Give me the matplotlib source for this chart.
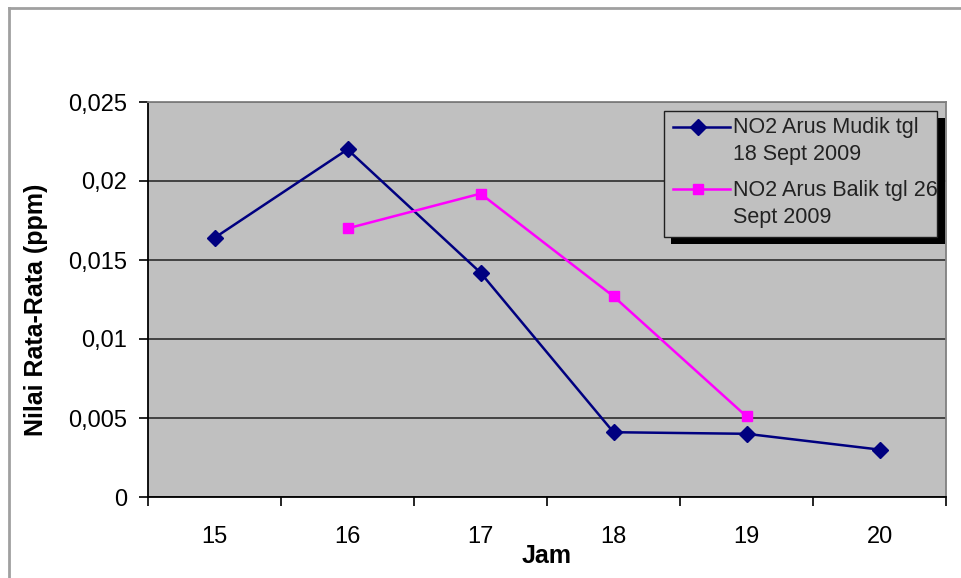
import numpy as np
import matplotlib
matplotlib.use('Agg')
import matplotlib.pyplot as plt
from matplotlib.patches import Rectangle
from matplotlib.lines import Line2D

# average NO2 per hour, homecoming (mudik) and return (balik) traffic
jam = ['15', '16', '17', '18', '19', '20']
mudik = [0.0164, 0.0220, 0.0142, 0.0041, 0.0040, 0.0030]
balik_jam = ['16', '17', '18', '19']
balik = [0.0170, 0.0192, 0.0127, 0.0051]
y_ticks = [0, 0.005, 0.01, 0.015, 0.02, 0.025]
y_labels = ['0', '0,005', '0,01', '0,015', '0,02', '0,025']
legend_mudik = ['NO2 Arus Mudik tgl', '18 Sept 2009']
legend_balik = ['NO2 Arus Balik tgl 26', 'Sept 2009']

plt.rcParams['font.family'] = 'Liberation Sans'

W, H = 961, 578
fig = plt.figure(figsize=(W / 100, H / 100), dpi=100)


def fx(px):
    return px / W


def fy(py):
    return 1 - py / H


# chart area border (top and left edges)
fig.add_artist(Line2D([fx(9), 1], [fy(8), fy(8)], color='#a0a0a0', lw=2))
fig.add_artist(Line2D([fx(9), fx(9)], [fy(8), 0], color='#a0a0a0', lw=2))

ax = fig.add_axes([fx(148), fy(497), (946 - 148) / W, (497 - 102) / H])
ax.set_facecolor('#c0c0c0')

x_mudik = [jam.index(j) for j in jam]
x_balik = [jam.index(j) for j in balik_jam]
ax.plot(x_mudik, mudik, color='#000080', lw=1.8, marker='D', ms=8, zorder=3)
ax.plot(x_balik, balik, color='#ff00ff', lw=1.8, marker='s', ms=7.5, zorder=3)

ax.set_xlim(-0.5, len(jam) - 0.5)
ax.set_ylim(0, 0.025)
ax.set_yticks(y_ticks)
ax.set_yticklabels(y_labels)
ax.yaxis.grid(True, color='#202020', lw=1.1)
ax.set_axisbelow(True)

ax.set_xticks(range(len(jam)))
ax.set_xticklabels(jam)
ax.set_xticks(np.arange(-0.5, len(jam), 1.0), minor=True)
ax.tick_params(axis='x', which='major', length=0, pad=21, labelsize=17)
ax.tick_params(axis='x', which='minor', length=6.5, width=1.2, direction='out')
ax.tick_params(axis='y', length=6.5, width=1.2, pad=8.5, labelsize=17)

for side in ['left', 'bottom']:
    ax.spines[side].set_color('black')
    ax.spines[side].set_linewidth(1.3)
for side in ['top', 'right']:
    ax.spines[side].set_color('#808080')
    ax.spines[side].set_linewidth(1.3)

ax.set_xlabel('Jam', fontsize=18, fontweight='bold')
ax.xaxis.set_label_coords(0.5, -0.149)
ax.xaxis.label.set_va('center')
ax.set_ylabel('Nilai Rata-Rata (ppm)', fontsize=18, fontweight='bold')
ax.yaxis.set_label_coords(-0.140, 0.473)
ax.yaxis.label.set_va('center')

# legend box with drop shadow, text cut at the box edge
shadow = Rectangle((fx(671), fy(244)), fx(945) - fx(671), fy(118) - fy(244),
                   transform=fig.transFigure, facecolor='black', edgecolor='none')
box = Rectangle((fx(664), fy(237)), fx(937) - fx(664), fy(111) - fy(237),
                transform=fig.transFigure, facecolor='#c0c0c0', edgecolor='#202020', lw=1)
fig.add_artist(shadow)
fig.add_artist(box)

entries = [('#000080', 'D', 8, 127, legend_mudik, [133, 160]),
           ('#ff00ff', 's', 7.5, 189, legend_balik, [196, 223])]
for color, marker, ms, ly, lines, baselines in entries:
    fig.add_artist(Line2D([fx(673), fx(730)], [fy(ly), fy(ly)], color=color, lw=1.8))
    fig.add_artist(Line2D([fx(698)], [fy(ly)], color=color, marker=marker, ms=ms))
    for txt, by in zip(lines, baselines):
        t = fig.text(fx(733), fy(by), txt, fontsize=15.5, color='#222222', va='baseline')
        t.set_clip_path(box)

fig.savefig('out.png', dpi=100)
